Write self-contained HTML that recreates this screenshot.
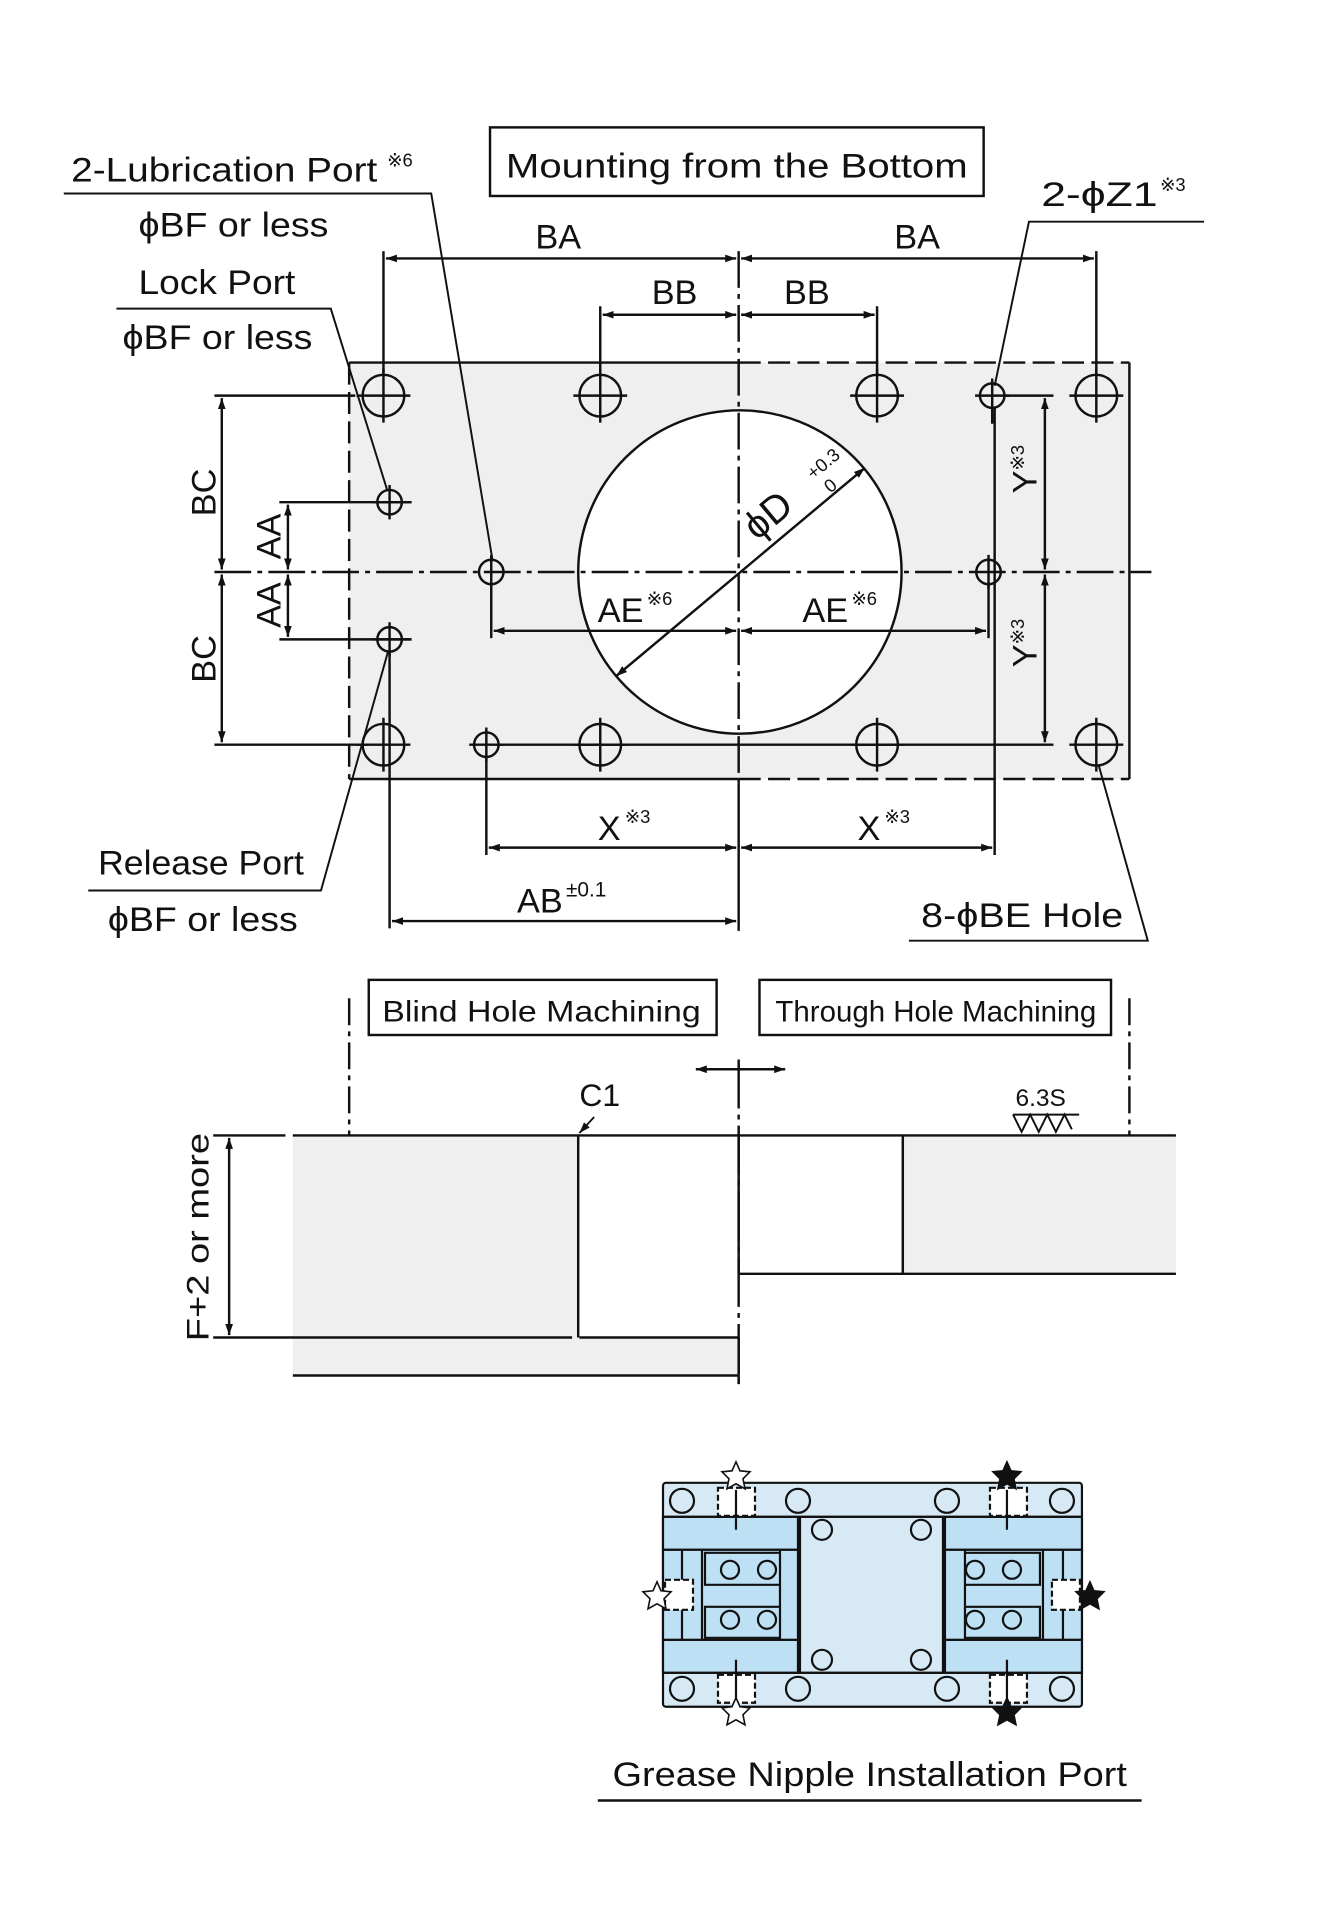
<!DOCTYPE html>
<html><head><meta charset="utf-8"><style>
html,body{margin:0;padding:0;background:#fff}
svg{display:block}
text{font-family:"Liberation Sans",sans-serif;fill:#111}
</style></head><body>
<svg width="1323" height="1923" viewBox="0 0 1080 1570" xmlns="http://www.w3.org/2000/svg">
<defs>
<marker id="a" viewBox="0 0 10 10" refX="10" refY="5" markerWidth="9" markerHeight="9" orient="auto-start-reverse" markerUnits="userSpaceOnUse"><path d="M0,1.5 L10,5 L0,8.5 Z" fill="#111"/></marker>
</defs>
<g stroke="#111" stroke-width="2" fill="none">
<rect x="285" y="296" width="637" height="340" fill="#efefef" stroke="none"/>
<line x1="285" y1="296" x2="603" y2="296"/>
<line x1="603" y1="296" x2="922" y2="296" stroke-dasharray="18,6"/>
<line x1="285" y1="636" x2="603" y2="636"/>
<line x1="603" y1="636" x2="922" y2="636" stroke-dasharray="18,6"/>
<line x1="285" y1="296" x2="285" y2="636" stroke-dasharray="18,6"/>
<line x1="922" y1="296" x2="922" y2="636"/>
<circle cx="604" cy="467" r="132" fill="#fff"/>
<line x1="603" y1="205" x2="603" y2="640" stroke-dasharray="30,5,4,5"/>
<line x1="175" y1="467" x2="940" y2="467" stroke-dasharray="30,5,4,5"/>
<g>
<circle cx="313" cy="323" r="17"/><circle cx="490" cy="323" r="17"/><circle cx="716" cy="323" r="17"/><circle cx="895" cy="323" r="17"/>
<circle cx="313" cy="608" r="17"/><circle cx="490" cy="608" r="17"/><circle cx="716" cy="608" r="17"/><circle cx="895" cy="608" r="17"/>
<path d="M291,323h44M313,301v44M468,323h44M490,301v44M694,323h44M716,301v44M873,323h44M895,301v44M291,608h44M313,586v44M468,608h44M490,586v44M694,608h44M716,586v44M873,608h44M895,586v44"/>
</g>
<circle cx="810" cy="323" r="10"/><circle cx="807" cy="467" r="10"/><circle cx="401" cy="467" r="10"/>
<circle cx="318" cy="410" r="10"/><circle cx="318" cy="522" r="10"/><circle cx="397" cy="608" r="10"/>
<path d="M796,323h28M810,309v37M401,453v28M807,453v28M304,410h32M318,396v28M304,522h32M318,508v28M383,608h28M397,594v28"/>
<line x1="313" y1="205" x2="313" y2="305"/><line x1="895" y1="205" x2="895" y2="305"/>
<line x1="315" y1="211" x2="601" y2="211" marker-start="url(#a)" marker-end="url(#a)"/>
<line x1="605" y1="211" x2="893" y2="211" marker-start="url(#a)" marker-end="url(#a)"/>
<line x1="490" y1="250" x2="490" y2="308"/><line x1="716" y1="250" x2="716" y2="308"/>
<line x1="492" y1="257" x2="601" y2="257" marker-start="url(#a)" marker-end="url(#a)"/>
<line x1="605" y1="257" x2="714" y2="257" marker-start="url(#a)" marker-end="url(#a)"/>
<line x1="175" y1="323" x2="290" y2="323"/><line x1="175" y1="608" x2="300" y2="608"/>
<line x1="181" y1="325" x2="181" y2="465" marker-start="url(#a)" marker-end="url(#a)"/>
<line x1="181" y1="469" x2="181" y2="606" marker-start="url(#a)" marker-end="url(#a)"/>
<line x1="228" y1="410" x2="335" y2="410"/><line x1="228" y1="522" x2="335" y2="522"/>
<line x1="235" y1="412" x2="235" y2="465" marker-start="url(#a)" marker-end="url(#a)"/>
<line x1="235" y1="469" x2="235" y2="520" marker-start="url(#a)" marker-end="url(#a)"/>
<line x1="820" y1="323" x2="860" y2="323"/><line x1="405" y1="608" x2="860" y2="608"/>
<line x1="853" y1="325" x2="853" y2="465" marker-start="url(#a)" marker-end="url(#a)"/>
<line x1="853" y1="469" x2="853" y2="606" marker-start="url(#a)" marker-end="url(#a)"/>
<line x1="401" y1="477" x2="401" y2="521"/><line x1="807" y1="477" x2="807" y2="521"/>
<line x1="403" y1="515" x2="601" y2="515" marker-start="url(#a)" marker-end="url(#a)"/>
<line x1="605" y1="515" x2="805" y2="515" marker-start="url(#a)" marker-end="url(#a)"/>
<line x1="503" y1="552" x2="706" y2="382" marker-start="url(#a)" marker-end="url(#a)"/>
<line x1="397" y1="618" x2="397" y2="698"/><line x1="812" y1="333" x2="812" y2="698"/>
<line x1="603" y1="640" x2="603" y2="760"/>
<line x1="399" y1="692" x2="601" y2="692" marker-start="url(#a)" marker-end="url(#a)"/>
<line x1="605" y1="692" x2="810" y2="692" marker-start="url(#a)" marker-end="url(#a)"/>
<line x1="318" y1="532" x2="318" y2="758"/>
<line x1="320" y1="752" x2="601" y2="752" marker-start="url(#a)" marker-end="url(#a)"/>
<polyline points="52,158 352,158 402,457" stroke-width="1.6"/>
<polyline points="95,252 270,252 316,400" stroke-width="1.6"/>
<polyline points="983,181 840,181 812,315" stroke-width="1.6"/>
<polyline points="72,727 262,727 317,531" stroke-width="1.6"/>
<polyline points="742,768 937,768 897,625" stroke-width="1.6"/>
<rect x="400" y="104" width="403" height="56" stroke-width="2"/>
<rect x="301" y="800" width="284" height="45"/>
<rect x="620" y="800" width="287" height="45"/>
<line x1="285" y1="815" x2="285" y2="927" stroke-dasharray="22,5,4,5"/>
<line x1="922" y1="815" x2="922" y2="927" stroke-dasharray="22,5,4,5"/>
<line x1="603" y1="865" x2="603" y2="1132" stroke-dasharray="40,5,4,5"/>
<line x1="568" y1="873" x2="641" y2="873" marker-start="url(#a)" marker-end="url(#a)"/>
<rect x="239" y="927" width="233" height="165" fill="#efefef" stroke="none"/>
<rect x="239" y="1092" width="364" height="31" fill="#efefef" stroke="none"/>
<rect x="737" y="927" width="223" height="113" fill="#efefef" stroke="none"/>
<line x1="174" y1="927" x2="233" y2="927"/><line x1="239" y1="927" x2="960" y2="927"/>
<line x1="174" y1="1092" x2="467" y2="1092"/><line x1="473" y1="1092" x2="603" y2="1092"/>
<line x1="239" y1="1123" x2="603" y2="1123"/>
<line x1="472" y1="927" x2="472" y2="1092"/>
<line x1="603" y1="1092" x2="603" y2="1130"/>
<line x1="603" y1="927" x2="603" y2="1040"/>
<line x1="603" y1="1040" x2="960" y2="1040"/>
<line x1="737" y1="927" x2="737" y2="1040"/>
<line x1="187" y1="929" x2="187" y2="1090" marker-start="url(#a)" marker-end="url(#a)"/>
<line x1="485" y1="912" x2="473" y2="925" stroke-width="1.5" marker-end="url(#a)"/>
<path d="M827,910h54M827,910l7,14l7,-14l7,14l7,-14l7,14l7,-14l6,12" stroke-width="1.6"/>
<line x1="488" y1="1470" x2="932" y2="1470"/>
</g>
<g font-size="28">
<text x="413" y="145" textLength="377" lengthAdjust="spacingAndGlyphs">Mounting from the Bottom</text>
<text x="58" y="148" textLength="250" lengthAdjust="spacingAndGlyphs">2-Lubrication Port</text>
<text x="316" y="136" font-size="15">※6</text>
<text x="113" y="193" textLength="155" lengthAdjust="spacingAndGlyphs">ϕBF or less</text>
<text x="113" y="240" textLength="128" lengthAdjust="spacingAndGlyphs">Lock Port</text>
<text x="100" y="285" textLength="155" lengthAdjust="spacingAndGlyphs">ϕBF or less</text>
<text x="437" y="203">BA</text><text x="730" y="203">BA</text>
<text x="532" y="248">BB</text><text x="640" y="248">BB</text>
<text x="850" y="168" textLength="95" lengthAdjust="spacingAndGlyphs">2-ϕZ1</text>
<text x="947" y="156" font-size="15">※3</text>
<text transform="translate(176,402) rotate(-90)" text-anchor="middle">BC</text>
<text transform="translate(176,538) rotate(-90)" text-anchor="middle">BC</text>
<text transform="translate(229,438) rotate(-90)" text-anchor="middle">AA</text>
<text transform="translate(229,494) rotate(-90)" text-anchor="middle">AA</text>
<text transform="translate(846,383) rotate(-90)" text-anchor="middle">Y<tspan font-size="15" dy="-10">※3</tspan></text>
<text transform="translate(846,525) rotate(-90)" text-anchor="middle">Y<tspan font-size="15" dy="-10">※3</tspan></text>
<text x="488" y="508">AE</text><text x="528" y="494" font-size="15">※6</text>
<text x="655" y="508">AE</text><text x="695" y="494" font-size="15">※6</text>
<text transform="translate(618,442) rotate(-40)" font-size="32">ϕD</text>
<text transform="translate(664,392) rotate(-40)" font-size="15">+0.3</text>
<text transform="translate(678,403) rotate(-40)" font-size="15">0</text>
<text x="488" y="686">X</text><text x="510" y="672" font-size="15">※3</text>
<text x="700" y="686">X</text><text x="722" y="672" font-size="15">※3</text>
<text x="422" y="745">AB</text><text x="462" y="732" font-size="17">±0.1</text>
<text x="80" y="714" textLength="168" lengthAdjust="spacingAndGlyphs">Release Port</text>
<text x="88" y="760" textLength="155" lengthAdjust="spacingAndGlyphs">ϕBF or less</text>
<text x="752" y="757" textLength="165" lengthAdjust="spacingAndGlyphs">8-ϕBE Hole</text>
<text x="312" y="834" font-size="24" textLength="260" lengthAdjust="spacingAndGlyphs">Blind Hole Machining</text>
<text x="633" y="834" font-size="24" textLength="262" lengthAdjust="spacingAndGlyphs">Through Hole Machining</text>
<text x="473" y="903" font-size="26">C1</text>
<text x="829" y="903" font-size="20">6.3S</text>
<text transform="translate(170,1010) rotate(-90)" text-anchor="middle" font-size="26" textLength="170" lengthAdjust="spacingAndGlyphs">F+2 or more</text>
<text x="500" y="1458" textLength="420" lengthAdjust="spacingAndGlyphs">Grease Nipple Installation Port</text>
</g>
<g transform="scale(0.81633)" stroke="#111" stroke-width="2.2">
<rect x="663" y="1483" width="419" height="224" fill="#d6e9f5" rx="3"/>
<rect x="663" y="1517" width="135" height="33" fill="#bde0f5"/>
<rect x="663" y="1640" width="135" height="33" fill="#bde0f5"/>
<rect x="945" y="1517" width="137" height="33" fill="#bde0f5"/>
<rect x="945" y="1640" width="137" height="33" fill="#bde0f5"/>
<rect x="663" y="1550" width="135" height="90" fill="#bde0f5"/>
<rect x="945" y="1550" width="137" height="90" fill="#bde0f5"/>
<rect x="800" y="1517" width="143" height="156" fill="#d6e9f5"/>
<line x1="663" y1="1517" x2="1082" y2="1517"/><line x1="663" y1="1673" x2="1082" y2="1673"/>
<path d="M682,1550v90M702,1550v90M705,1553h75v32h-75zM705,1607h75v31h-75zM780,1550v90" fill="none"/>
<path d="M1063,1550v90M1043,1550v90M965,1553h75v32h-75zM965,1607h75v31h-75zM965,1550v90" fill="none"/>
<g fill="none"><circle cx="730" cy="1570" r="9"/><circle cx="767" cy="1570" r="9"/><circle cx="730" cy="1620" r="9"/><circle cx="767" cy="1620" r="9"/>
<circle cx="975" cy="1570" r="9"/><circle cx="1012" cy="1570" r="9"/><circle cx="975" cy="1620" r="9"/><circle cx="1012" cy="1620" r="9"/>
<circle cx="822" cy="1530" r="10"/><circle cx="921" cy="1530" r="10"/><circle cx="822" cy="1660" r="10"/><circle cx="921" cy="1660" r="10"/>
<circle cx="682" cy="1501" r="12"/><circle cx="798" cy="1501" r="12"/><circle cx="947" cy="1501" r="12"/><circle cx="1062" cy="1501" r="12"/>
<circle cx="682" cy="1689" r="12"/><circle cx="798" cy="1689" r="12"/><circle cx="947" cy="1689" r="12"/><circle cx="1062" cy="1689" r="12"/>
</g>
<g fill="#fff" stroke-dasharray="6,3"><rect x="718" y="1488" width="37" height="28"/><rect x="990" y="1488" width="37" height="28"/><rect x="718" y="1675" width="37" height="28"/><rect x="990" y="1675" width="37" height="28"/>
<rect x="665" y="1580" width="28" height="30"/><rect x="1052" y="1580" width="28" height="30"/></g>
<path d="M736,1490v40M1007,1490v40M736,1660v40M1007,1660v40" fill="none"/>
<path d="M736,1462l4,9l10,1l-7,7l2,10l-9,-5l-9,5l2,-10l-7,-7l10,-1z" fill="#fff" stroke-width="1.6"/>
<path d="M1007,1462l4,9l10,1l-7,7l2,10l-9,-5l-9,5l2,-10l-7,-7l10,-1z" fill="#111" stroke-width="1.6"/>
<path d="M657,1582l4,9l10,1l-7,7l2,10l-9,-5l-9,5l2,-10l-7,-7l10,-1z" fill="#fff" stroke-width="1.6"/>
<path d="M1090,1582l4,9l10,1l-7,7l2,10l-9,-5l-9,5l2,-10l-7,-7l10,-1z" fill="#111" stroke-width="1.6"/>
<path d="M736,1698l4,9l10,1l-7,7l2,10l-9,-5l-9,5l2,-10l-7,-7l10,-1z" fill="#fff" stroke-width="1.6"/>
<path d="M1007,1698l4,9l10,1l-7,7l2,10l-9,-5l-9,5l2,-10l-7,-7l10,-1z" fill="#111" stroke-width="1.6"/>
</g>
</svg>
</body></html>
